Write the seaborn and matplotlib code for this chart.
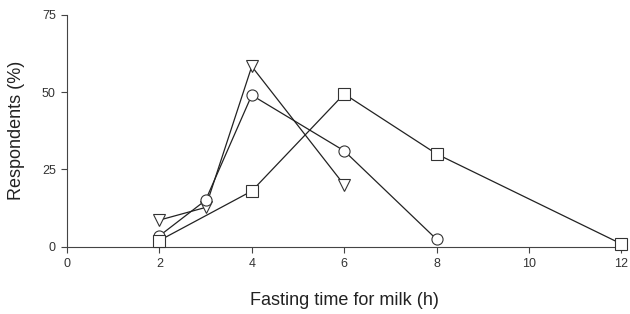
import matplotlib
matplotlib.use("Agg")
import matplotlib.pyplot as plt
import seaborn as sns
import pandas as pd

sns.set_style("white")
plt.rcParams['font.family'] = ['Liberation Sans', 'DejaVu Sans']

tri_x = [2, 3, 4, 6]
tri_y = [8.6, 12.7, 58.3, 20.0]
circ_x = [2, 3, 4, 6, 8]
circ_y = [3.5, 15.0, 49.0, 31.0, 2.4]
sq_x = [2, 4, 6, 8, 12]
sq_y = [2.0, 18.0, 49.4, 30.0, 0.9]

x_ticks = [0, 2, 4, 6, 8, 10, 12]
y_ticks = [0, 25, 50, 75]

df = pd.concat([
    pd.DataFrame({"x": tri_x, "y": tri_y, "s": "tri"}),
    pd.DataFrame({"x": circ_x, "y": circ_y, "s": "circ"}),
    pd.DataFrame({"x": sq_x, "y": sq_y, "s": "sq"}),
], ignore_index=True)

fig = plt.figure(figsize=(6.3, 3.14), dpi=100)
ax = fig.add_axes([0.1063, 0.2143, 0.880, 0.7387])

sns.lineplot(data=df, x="x", y="y", style="s", hue="s",
             palette={"tri": "#222222", "circ": "#222222", "sq": "#222222"},
             markers={"tri": "v", "circ": "o", "sq": "s"}, dashes=False,
             markersize=8, markerfacecolor="white", markeredgecolor="#333333",
             markeredgewidth=0.8, linewidth=0.9, legend=False, ax=ax,
             clip_on=False, zorder=3)

ax.set_xlim(0, 12)
ax.set_ylim(0, 75)
ax.set_xticks(x_ticks)
ax.set_yticks(y_ticks)
ax.tick_params(axis="both", direction="out", length=4, width=0.8,
               color="#444444", labelsize=9, labelcolor="#333333",
               bottom=True, left=True, pad=4)
for sp in ["top", "right"]:
    ax.spines[sp].set_visible(False)
for sp in ["left", "bottom"]:
    ax.spines[sp].set_color("#444444")
    ax.spines[sp].set_linewidth(0.8)

ax.set_xlabel("Fasting time for milk (h)", fontsize=13, color="#222222", labelpad=16)
ax.set_ylabel("Respondents (%)", fontsize=13, color="#222222", labelpad=12)

fig.savefig("out.png", dpi=100)
